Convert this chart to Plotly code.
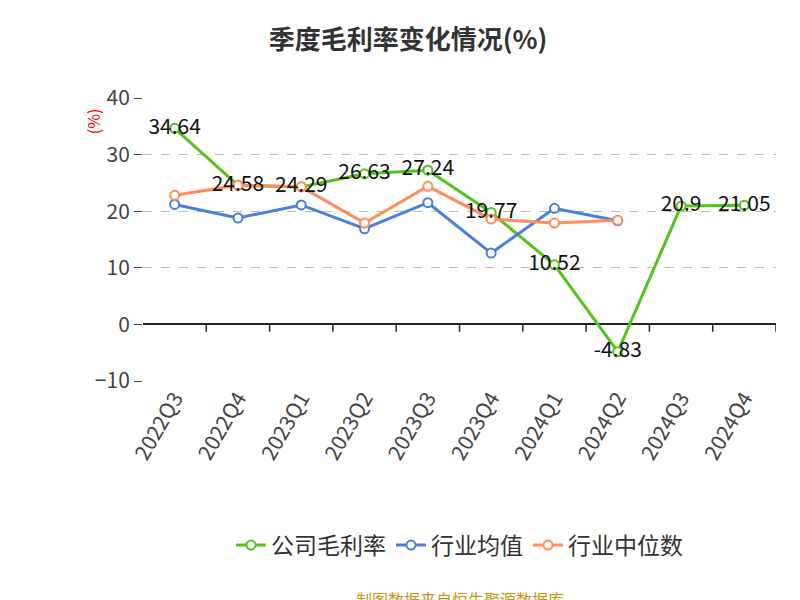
import plotly.graph_objects as go

quarters = ['2022Q3', '2022Q4', '2023Q1', '2023Q2', '2023Q3', '2023Q4',
            '2024Q1', '2024Q2', '2024Q3', '2024Q4']
company = [34.64, 24.58, 24.29, 26.63, 27.24, 19.77, 10.52, -4.83, 20.9, 21.05]
industry_avg = [21.2, 18.8, 21.1, 16.9, 21.5, 12.6, 20.5, 18.3, None, None]
industry_median = [22.8, 24.6, 24.3, 17.9, 24.4, 18.6, 17.9, 18.4, None, None]

fig = go.Figure()

fig.add_trace(go.Scatter(
    x=quarters, y=company, name='公司毛利率', mode='lines+markers',
    line=dict(color='#52c41a', width=3),
    marker=dict(size=9, color='white', line=dict(color='#52c41a', width=2))
))
fig.add_trace(go.Scatter(
    x=quarters, y=industry_avg, name='行业均值', mode='lines+markers',
    line=dict(color='#4a7fe0', width=3),
    marker=dict(size=9, color='white', line=dict(color='#4a7fe0', width=2))
))
fig.add_trace(go.Scatter(
    x=quarters, y=industry_median, name='行业中位数', mode='lines+markers',
    line=dict(color='#ff8c5a', width=3),
    marker=dict(size=9, color='white', line=dict(color='#ff8c5a', width=2))
))
# value labels on top of everything
fig.add_trace(go.Scatter(
    x=quarters, y=company, mode='text', showlegend=False,
    text=[str(v) for v in company], textposition='middle center',
    textfont=dict(size=21, color='#111')
))

# tick marks hanging below the zero line
for i in range(len(quarters)):
    fig.add_shape(type='line', xref='x', yref='y', x0=i + 0.5, x1=i + 0.5,
                  y0=0, y1=-1.3, line=dict(color='#222', width=1.5))

fig.update_layout(
    width=800, height=600,
    title=dict(text='<b>季度毛利率变化情况(%)</b>', x=0.5, y=0.962,
               font=dict(size=26, color='#333')),
    font=dict(family='Noto Sans CJK SC, Noto Sans, sans-serif', color='#333'),
    plot_bgcolor='white', paper_bgcolor='white',
    margin=dict(l=135, r=32, t=90, b=227),
    legend=dict(orientation='h', x=0.5, xanchor='center', y=-0.58, yanchor='middle',
                font=dict(size=23)),
    xaxis=dict(range=[-0.5, 9.5], tickangle=-60, tickfont=dict(size=21, color='#444'),
               showgrid=False, ticks='', automargin=False),
    yaxis=dict(range=[-10, 40], dtick=10, showgrid=True, gridcolor='#bbb',
               griddash='dash', zeroline=True, zerolinecolor='#222', zerolinewidth=1.5,
               tickfont=dict(size=21, color='#444'), ticks='outside', ticklen=8,
               tickcolor='#444', showline=False, automargin=False),
    annotations=[
        dict(text='(%)', x=-0.1, y=0.97, xref='paper', yref='paper', textangle=-90,
             showarrow=False, font=dict(size=16, color='red'), yanchor='top'),
        dict(text='制图数据来自恒生聚源数据库', x=0.5, y=-0.77, xref='paper', yref='paper',
             yanchor='middle', showarrow=False, font=dict(size=16, color='#c8960f'))
    ]
)

fig.write_html('out.html')
